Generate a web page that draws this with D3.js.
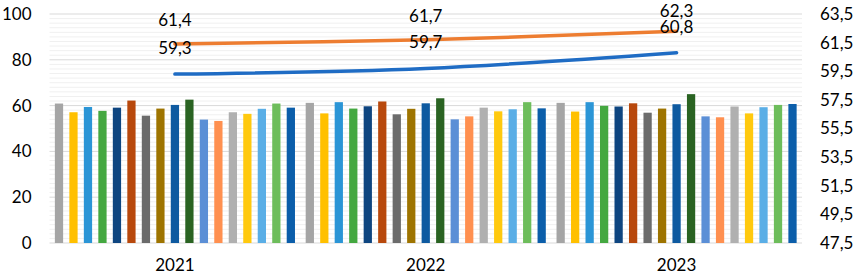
<!DOCTYPE html>
<html lang="ru">
<head>
  <meta charset="UTF-8">
  <title>d3</title>
  <script src="https://d3js.org/d3.v7.min.js"></script>
  <style>
    body { margin: 0; background: #fff; }
    text { font-family: Lato, 'Noto Sans', sans-serif; fill: #000; }
  </style>
</head>
<body>
  <div class="canvas"></div>
  <script>
    // categories and values
    const years = ['2021', '2022', '2023'];
    const bars2021 = [60.9, 57.1, 59.4, 57.7, 59.1, 62.2, 55.6, 58.7, 60.3, 62.6, 53.9, 53.3, 57.1, 56.4, 58.6, 60.9, 59.1];
    const bars2022 = [61.2, 56.6, 61.5, 58.7, 59.7, 61.8, 56.2, 58.6, 61.0, 63.2, 54.0, 55.3, 59.1, 57.5, 58.4, 61.5, 58.8];
    const bars2023 = [61.2, 57.4, 61.5, 59.9, 59.6, 61.0, 56.9, 58.7, 60.6, 65.0, 55.3, 54.9, 59.6, 56.6, 59.3, 60.3, 60.7];
    const orangeLine = [61.4, 61.7, 62.3];
    const blueLine = [59.3, 59.7, 60.8];
    const leftTicks = [0, 20, 40, 60, 80, 100];
    const rightTicks = [47.5, 49.5, 51.5, 53.5, 55.5, 57.5, 59.5, 61.5, 63.5];

    const barColors = ['#a5a5a5', '#ffc000', '#2b95d6', '#44a840', '#0e4580', '#b8480c', '#6b6b6b', '#9e7400',
                       '#0e5aa0', '#2a6322', '#5b8fd6', '#ff9050', '#b0b0b0', '#ffc90e', '#5aaee6', '#6dbd5b', '#0b5eaa'];

    const width = 859;
    const height = 279;
    const [mt, mb, ml, mr] = [14, 36, 49.5, 57];
    const graphWidth = width - ml - mr;
    const graphHeight = height - mt - mb;

    const svg = d3.select('.canvas')
                  .append('svg')
                  .attr('width', width)
                  .attr('height', height);

    const graph = svg.append('g')
                     .attr('transform', `translate(${ml}, ${mt})`);

    const x = d3.scaleBand()
                .domain(years)
                .range([0, graphWidth])
                .padding(0);

    const xInner = d3.scaleBand()
                     .domain(d3.range(bars2021.length))
                     .range([0, x.bandwidth()])
                     .paddingInner(0.43)
                     .paddingOuter(0.37);

    const y = d3.scaleLinear().domain([0, 100]).range([graphHeight, 0]);
    const y2 = d3.scaleLinear().domain([47.5, 63.5]).range([graphHeight, 0]);

    // minor gridlines every 2, major every 20
    graph.append('g')
      .selectAll('line')
      .data(d3.range(0, 101, 2).filter(v => v % 20 !== 0))
      .enter()
      .append('line')
      .attr('x1', 0).attr('x2', graphWidth)
      .attr('y1', d => y(d)).attr('y2', d => y(d))
      .attr('stroke', '#f0f0f0')
      .attr('stroke-width', 1);

    graph.append('g')
      .selectAll('line')
      .data(leftTicks)
      .enter()
      .append('line')
      .attr('x1', 0).attr('x2', graphWidth)
      .attr('y1', d => y(d)).attr('y2', d => y(d))
      .attr('stroke', '#d9d9d9')
      .attr('stroke-width', 1);

    // bars
    const rows = years.map((yr, i) => ({ year: yr, values: [bars2021, bars2022, bars2023][i] }));

    const groups = graph.selectAll('g.grp')
      .data(rows)
      .enter()
      .append('g')
      .attr('class', 'grp')
      .attr('transform', d => `translate(${x(d.year)}, 0)`);

    groups.selectAll('rect')
      .data(d => d.values)
      .enter()
      .append('rect')
      .attr('x', (d, i) => xInner(i))
      .attr('y', d => y(d))
      .attr('width', xInner.bandwidth())
      .attr('height', d => graphHeight - y(d))
      .style('fill', (d, i) => barColors[i]);

    // lines on the right axis
    const line = d3.line()
                   .x((d, i) => x(years[i]) + x.bandwidth() / 2)
                   .y(d => y2(d))
                   .curve(d3.curveCatmullRom.alpha(0.5));

    const lineSeries = [
      { values: orangeLine, color: '#ed7d31', off: 18 },
      { values: blueLine, color: '#1f6cc4', off: 20 }
    ];

    lineSeries.forEach(s => {
      graph.append('path')
        .attr('fill', 'none')
        .attr('stroke', s.color)
        .attr('stroke-width', 3.5)
        .attr('stroke-linecap', 'round')
        .attr('d', line(s.values));
    });

    // value labels; top one is kept inside the picture
    lineSeries.forEach(s => {
      graph.append('g')
        .selectAll('text')
        .data(s.values)
        .enter()
        .append('text')
        .attr('x', (d, i) => x(years[i]) + x.bandwidth() / 2)
        .attr('y', d => Math.max(3, y2(d) - s.off))
        .attr('text-anchor', 'middle')
        .style('font-size', '17px')
        .text(d => d3.format('.1f')(d).replace('.', ','));
    });

    // axes
    const xAxis = d3.axisBottom(x).tickSize(0).tickPadding(16);
    const yAxis = d3.axisLeft(y).tickValues(leftTicks).tickSize(0).tickPadding(18);
    const yAxis2 = d3.axisRight(y2).tickValues(rightTicks).tickSize(0).tickPadding(18)
                     .tickFormat(d => d3.format('.1f')(d).replace('.', ','));

    const xAxisG = graph.append('g').attr('transform', `translate(0, ${graphHeight})`).call(xAxis);
    const yAxisG = graph.append('g').call(yAxis);
    const yAxisG2 = graph.append('g').attr('transform', `translate(${graphWidth}, 0)`).call(yAxis2);

    [xAxisG, yAxisG, yAxisG2].forEach(g => {
      g.select('.domain').remove();
      g.selectAll('text').style('font-size', '17px').attr('fill', '#000');
    });
  </script>
</body>
</html>
